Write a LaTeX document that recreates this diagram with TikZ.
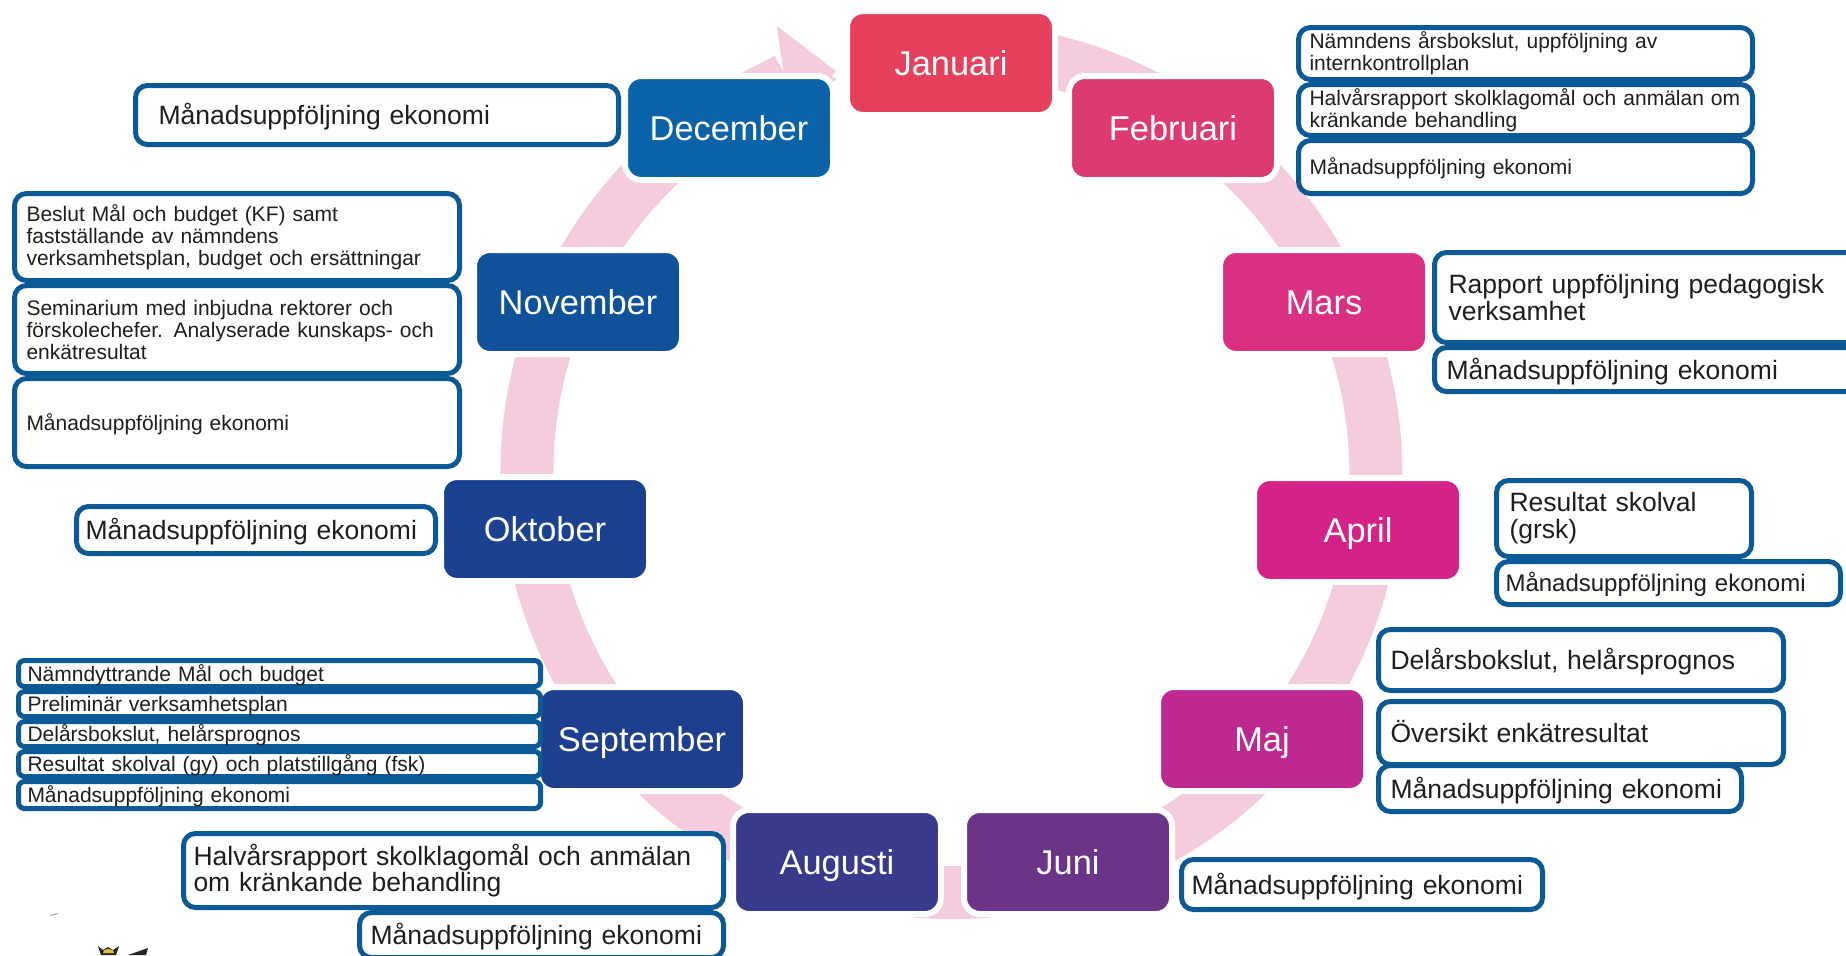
\documentclass[tikz,border=0pt]{standalone}
\usepackage{fontspec}
\setmainfont{Liberation Sans}
\usetikzlibrary{arrows.meta,backgrounds}
\definecolor{bandpink}{RGB}{245,203,222}
\definecolor{noteblue}{RGB}{11,90,150}
\definecolor{notetext}{RGB}{30,30,30}
\definecolor{cjan}{RGB}{230,64,92}
\definecolor{cfeb}{RGB}{221,58,114}
\definecolor{cmar}{RGB}{218,48,130}
\definecolor{capr}{RGB}{212,34,136}
\definecolor{cmaj}{RGB}{190,40,145}
\definecolor{cjun}{RGB}{108,52,135}
\definecolor{caug}{RGB}{56,58,140}
\definecolor{csep}{RGB}{30,62,142}
\definecolor{cokt}{RGB}{26,66,144}
\definecolor{cnov}{RGB}{15,82,153}
\definecolor{cdec}{RGB}{10,98,168}
\definecolor{crown}{RGB}{232,190,50}

\tikzset{
    x=0.5pt, y=0.5pt,
    month/.style={rectangle, rounded corners=8pt, draw=white, line width=3pt, outer sep=0pt,
        minimum width=104pt, minimum height=52pt, text=white, text height=12.3pt, text depth=0pt,
        font=\fontsize{17.2}{20}\selectfont},
    note/.style n args={3}{rectangle, rounded corners=6pt, draw=noteblue, fill=white, line width=2.5pt,
        anchor=north west, align=left, text=notetext, inner ysep=0pt, inner xsep=#3*0.5pt,
        minimum width=#1*0.5pt-2.5pt, minimum height=#2*0.5pt-2.5pt,
        text width=#1*0.5pt-2.5pt-#3*1pt},
    notebig/.style={font=\fontsize{13.25}{13.4}\selectfont},
    notemid/.style={font=\fontsize{12}{13}\selectfont},
    notesmall/.style={font=\fontsize{10.5}{11}\selectfont},
    oneline/.style={text height=#1*0.72pt, text depth=0pt},
    monthband/.style={draw=bandpink, line width=26.5pt},
}

\begin{document}
\begin{tikzpicture}
\useasboundingbox (0, 0) rectangle (1846, -955);

% Months.
\node[month, fill=cjan] (jan) at (951, -63) {Januari};
\node[month, fill=cfeb] (feb) at (1173, -128) {Februari};
\node[month, fill=cmar] (mar) at (1324, -302) {Mars};
\node[month, fill=capr] (apr) at (1358, -530) {April};
\node[month, fill=cmaj] (maj) at (1262, -739) {Maj};
\node[month, fill=cjun] (jun) at (1068, -862) {Juni};
\node[month, fill=caug] (aug) at (837, -862) {Augusti};
\node[month, fill=csep] (sep) at (642, -739) {September};
\node[month, fill=cokt] (okt) at (545, -529) {Oktober};
\node[month, fill=cnov] (nov) at (578, -302) {November};
\node[month, fill=cdec] (dec) at (729, -128) {December};

% Ring behind the months.
\begin{scope}[on background layer]
    \draw[monthband] ([shift={(90:14)}]jan.center) to[bend left=16.4, looseness=0.87] ([shift={(57.3:14)}]feb.center);
    \draw[monthband] ([shift={(57.3:14)}]feb.center) to[bend left=16.4, looseness=0.87] ([shift={(24.6:14)}]mar.center);
    \draw[monthband] ([shift={(24.6:14)}]mar.center) to[bend left=16.4, looseness=0.87] ([shift={(-8:14)}]apr.center);
    \draw[monthband] ([shift={(-8:14)}]apr.center) to[bend left=16.4, looseness=0.87] ([shift={(-40.6:14)}]maj.center);
    \draw[monthband] ([shift={(-40.6:14)}]maj.center) to[bend left=16.4, looseness=0.87] ([shift={(-73:14)}]jun.center);
    \draw[monthband] ([shift={(-73:14)}]jun.center) to[bend left=16.4, looseness=0.87] ([shift={(-107:14)}]aug.center);
    \draw[monthband] ([shift={(-107:14)}]aug.center) to[bend left=16.4, looseness=0.87] ([shift={(-139.4:14)}]sep.center);
    \draw[monthband] ([shift={(-139.4:14)}]sep.center) to[bend left=16.4, looseness=0.87] ([shift={(-172:14)}]okt.center);
    \draw[monthband] ([shift={(-172:14)}]okt.center) to[bend left=16.4, looseness=0.87] ([shift={(155.2:14)}]nov.center);
    \draw[monthband] ([shift={(155.2:14)}]nov.center) to[bend left=16.4, looseness=0.87] ([shift={(122.7:14)}]dec.center);
    \draw[monthband, -{Triangle[length=26pt, width=52pt]}] ([shift={(122.7:14)}]dec.center) to[bend left=13, looseness=0.87] ([shift={(-11,-8)}]jan.west);
\end{scope}

% Februari.
\node[note={459}{57}{11}, notesmall] (feb1) at (1296, -25) {Nämndens årsbokslut, uppföljning av\\internkontrollplan};
\node[note={459}{56}{11}, notesmall] (feb2) at (1296, -82) {Halvårsrapport skolklagomål och anmälan om\\kränkande behandling};
\node[note={459}{58}{11}, notesmall, oneline=10.5] (feb3) at (1296, -138) {Månadsuppföljning ekonomi};
% Mars.
\node[note={440}{95}{14}, notebig] (mar1) at (1432, -250) {Rapport uppföljning pedagogisk\\verksamhet};
\node[note={440}{49}{12}, notebig, oneline=13.25] (mar2) at (1432, -345) {Månadsuppföljning ekonomi};
% April.
\node[note={260}{81}{13}, notebig] (apr1) at (1494, -478) {Resultat skolval\\(grsk)};
\node[note={349}{48}{9}, notemid, oneline=12] (apr2) at (1494, -559) {Månadsuppföljning ekonomi};
% Maj.
\node[note={410}{66}{12}, notebig, oneline=13.25] (maj1) at (1376, -627) {Delårsbokslut, helårsprognos};
\node[note={410}{68}{12}, notebig, oneline=13.25] (maj2) at (1376, -699) {Översikt enkätresultat};
\node[note={368}{51}{12}, notebig, oneline=13.25] (maj3) at (1376, -763) {Månadsuppföljning ekonomi};
% Juni.
\node[note={366}{55}{10}, notebig, oneline=13.25] (jun1) at (1179, -857) {Månadsuppföljning ekonomi};
% Augusti.
\node[note={545}{79}{10}, notebig] (aug1) at (181, -831) {Halvårsrapport skolklagomål och anmälan\\om kränkande behandling};
\node[note={369}{50}{11}, notebig, oneline=13.25] (aug2) at (357, -910) {Månadsuppföljning ekonomi};
% September.
\node[note={527}{31}{9}, notesmall, oneline=10.5, rounded corners=3pt] (sep1) at (16, -658) {Nämndyttrande Mål och budget};
\node[note={527}{30}{9}, notesmall, oneline=10.5, rounded corners=3pt] (sep2) at (16, -689) {Preliminär verksamhetsplan};
\node[note={527}{30}{9}, notesmall, oneline=10.5, rounded corners=3pt] (sep3) at (16, -719) {Delårsbokslut, helårsprognos};
\node[note={527}{30}{9}, notesmall, oneline=10.5, rounded corners=3pt] (sep4) at (16, -749) {Resultat skolval (gy) och platstillgång (fsk)};
\node[note={527}{32}{9}, notesmall, oneline=10.5, rounded corners=3pt] (sep5) at (16, -779) {Månadsuppföljning ekonomi};
% Oktober.
\node[note={364}{52}{9}, notebig, oneline=13.25] (okt1) at (74, -504) {Månadsuppföljning ekonomi};
% November.
\node[note={450}{92}{12}, notesmall] (nov1) at (12, -191) {Beslut Mål och budget (KF) samt\\fastställande av nämndens\\verksamhetsplan, budget och ersättningar};
\node[note={450}{93}{12}, notesmall] (nov2) at (12, -283) {Seminarium med inbjudna rektorer och\\förskolechefer. Analyserade kunskaps- och\\enkätresultat};
\node[note={450}{93}{12}, notesmall, oneline=10.5] (nov3) at (12, -376) {Månadsuppföljning ekonomi};
% December.
\node[note={488}{64}{23}, notebig, oneline=13.25] (dec1) at (133, -83) {Månadsuppföljning ekonomi};

% Edge of the crest, cut by the page.
\fill[black!85] (98, -946) -- (103, -950) -- (108, -947) -- (113, -950) -- (119, -946) -- (116, -955) -- (101, -955) -- cycle;
\fill[crown] (103, -953) -- (104, -950) -- (108, -949) -- (113, -950) -- (114, -953) -- cycle;
\fill[black!85] (128, -955) -- (148, -948) -- (146, -955) -- cycle;
\fill[black!35] (50, -915) -- (58, -913) -- (58, -914) -- (50, -916) -- cycle;

\end{tikzpicture}
\end{document}
